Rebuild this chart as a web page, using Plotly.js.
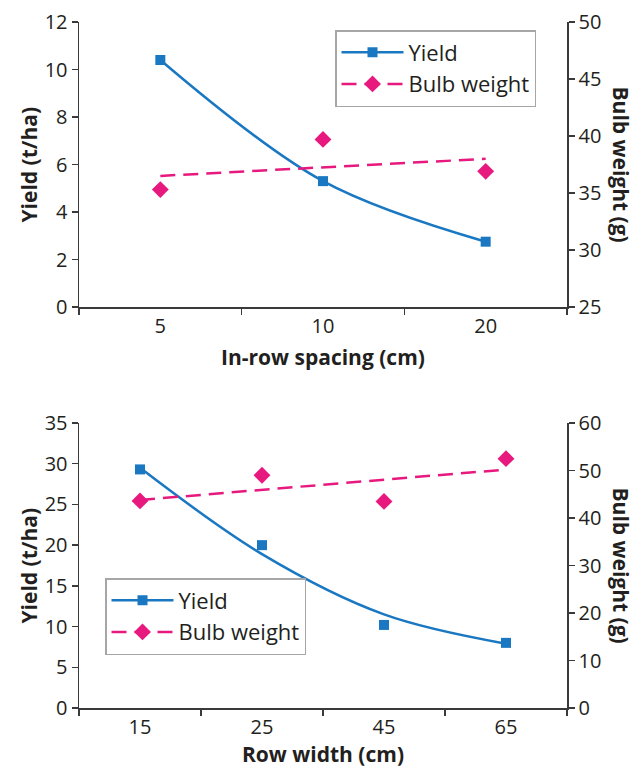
<!DOCTYPE html>
<html>
<head>
<meta charset="utf-8">
<script src="https://cdn.plot.ly/plotly-3.0.1.min.js"></script>
<style>html,body{margin:0;padding:0;background:#fff}#chart{width:634px;height:768px}</style>
</head>
<body>
<div id="chart"></div>
<script>
// ---- data ----
var topCats = ['5', '10', '20'];
var topYield = [10.4, 5.3, 2.75];
var topBulb = [35.3, 39.7, 36.9];
var topBulbTrendCats = ['5', '20'];
var topBulbTrend = [36.5, 38.0];

var botCats = ['15', '25', '45', '65'];
var botYield = [29.3, 20.0, 10.2, 8.0];
var botYieldTrend = [29.5, 18.9, 11.5, 7.9];
var botBulb = [43.6, 49.0, 43.5, 52.5];
var botBulbTrendCats = ['15', '65'];
var botBulbTrend = [43.8, 50.2];

var topYTicks = [0, 2, 4, 6, 8, 10, 12];
var topY2Ticks = [25, 30, 35, 40, 45, 50];
var botYTicks = [0, 5, 10, 15, 20, 25, 30, 35];
var botY2Ticks = [0, 10, 20, 30, 40, 50, 60];

// ---- styles ----
var BLUE = '#1a78c2';
var PINK = '#e8197e';
var FONT = '"Open Sans", "Noto Sans", sans-serif';
var TXT = '#231f20';
var AX = '#3a3a3a';

var sq = {symbol: 'square', size: 10, color: BLUE};
var dm = {symbol: 'diamond', size: 13, color: PINK};
var solid = {color: BLUE, width: 2.5, shape: 'spline'};
var dashed = {color: PINK, width: 2.5, dash: '15px,8px'};

var traces = [
  // top chart
  {x: topCats, y: topYield, xaxis: 'x', yaxis: 'y', mode: 'lines+markers', name: 'Yield',
   marker: sq, line: solid, legend: 'legend'},
  {x: topBulbTrendCats, y: topBulbTrend, xaxis: 'x', yaxis: 'y2', mode: 'lines', line: dashed,
   showlegend: false},
  {x: topCats, y: topBulb, xaxis: 'x', yaxis: 'y2', mode: 'markers', marker: dm, showlegend: false},
  {x: [null], y: [null], xaxis: 'x', yaxis: 'y2', mode: 'lines+markers', name: 'Bulb weight',
   marker: dm, line: dashed, legend: 'legend'},
  // bottom chart
  {x: botCats, y: botYieldTrend, xaxis: 'x2', yaxis: 'y3', mode: 'lines', line: solid, showlegend: false},
  {x: botCats, y: botYield, xaxis: 'x2', yaxis: 'y3', mode: 'markers', marker: sq, showlegend: false},
  {x: [null], y: [null], xaxis: 'x2', yaxis: 'y3', mode: 'lines+markers', name: 'Yield',
   marker: sq, line: solid, legend: 'legend2'},
  {x: botBulbTrendCats, y: botBulbTrend, xaxis: 'x2', yaxis: 'y4', mode: 'lines', line: dashed,
   showlegend: false},
  {x: botCats, y: botBulb, xaxis: 'x2', yaxis: 'y4', mode: 'markers', marker: dm, showlegend: false},
  {x: [null], y: [null], xaxis: 'x2', yaxis: 'y4', mode: 'lines+markers', name: 'Bulb weight',
   marker: dm, line: dashed, legend: 'legend2'}
];

var L = 79, R = 567, W = 634, H = 768, T = 22, B = 60;
var ph = H - T - B;
var topDom = [(708 - 307) / ph, 1];
var botDom = [0, (708 - 423) / ph];
function py(px) { return (708 - px) / ph; }   // pixel row -> paper y

function xax(anchor, cats) {
  return {
    anchor: anchor, type: 'category', categoryorder: 'array', categoryarray: cats,
    range: [-0.5, cats.length - 0.5], tickson: 'boundaries', automargin: false,
    showline: true, linecolor: AX, linewidth: 1.5, ticks: 'outside', ticklen: 6, tickwidth: 1.5,
    tickcolor: AX, showgrid: false, zeroline: false, fixedrange: true,
    tickfont: {family: FONT, size: 20, color: TXT}
  };
}
function yax(anchor, dom, ticks, side, overlay) {
  var a = {
    domain: dom, anchor: anchor, side: side, range: [ticks[0], ticks[ticks.length - 1]],
    tickvals: ticks, showline: true, linecolor: AX, linewidth: 1.5, ticks: 'outside', ticklen: 6,
    tickwidth: 1.5, tickcolor: AX, showgrid: false, zeroline: false, fixedrange: true,
    automargin: false, tickfont: {family: FONT, size: 20, color: TXT}
  };
  if (overlay) a.overlaying = overlay;
  return a;
}

var legendStyle = {
  bgcolor: '#ffffff', bordercolor: '#a6a6a6', borderwidth: 1.5,
  font: {family: FONT, size: 22, color: TXT}, xanchor: 'left', yanchor: 'top',
  tracegroupgap: 0, itemwidth: 62
};

var titleFont = {family: FONT, size: 21, color: TXT, weight: 'bold'};
function title(text, x, xshift, y, angle) {
  return {text: text, xref: 'paper', yref: 'paper', x: x, xshift: xshift, y: y,
          xanchor: 'center', yanchor: 'middle', textangle: angle, showarrow: false, font: titleFont};
}

var layout = {
  width: W, height: H, margin: {l: L, r: W - R, t: T, b: B},
  paper_bgcolor: '#ffffff', plot_bgcolor: '#ffffff', showlegend: true,
  xaxis: xax('y', topCats),
  yaxis: yax('x', topDom, topYTicks, 'left', null),
  yaxis2: yax('x', topDom, topY2Ticks, 'right', 'y'),
  xaxis2: xax('y3', botCats),
  yaxis3: yax('x2', botDom, botYTicks, 'left', null),
  yaxis4: yax('x2', botDom, botY2Ticks, 'right', 'y3'),
  legend: Object.assign({x: (335 - L) / (R - L), y: py(30)}, legendStyle),
  legend2: Object.assign({x: (105 - L) / (R - L), y: py(578)}, legendStyle),
  annotations: [
    title('In-row spacing (cm)', 0.5, 0, py(357), 0),
    title('Row width (cm)', 0.5, 0, py(754), 0),
    title('Yield (t/ha)', 0, -51, (topDom[0] + topDom[1]) / 2, -90),
    title('Yield (t/ha)', 0, -51, (botDom[0] + botDom[1]) / 2, -90),
    title('Bulb weight (g)', 1, 54, (topDom[0] + topDom[1]) / 2, 90),
    title('Bulb weight (g)', 1, 54, (botDom[0] + botDom[1]) / 2, 90)
  ]
};

Plotly.newPlot('chart', traces, layout, {staticPlot: true, displayModeBar: false});
</script>
</body>
</html>
